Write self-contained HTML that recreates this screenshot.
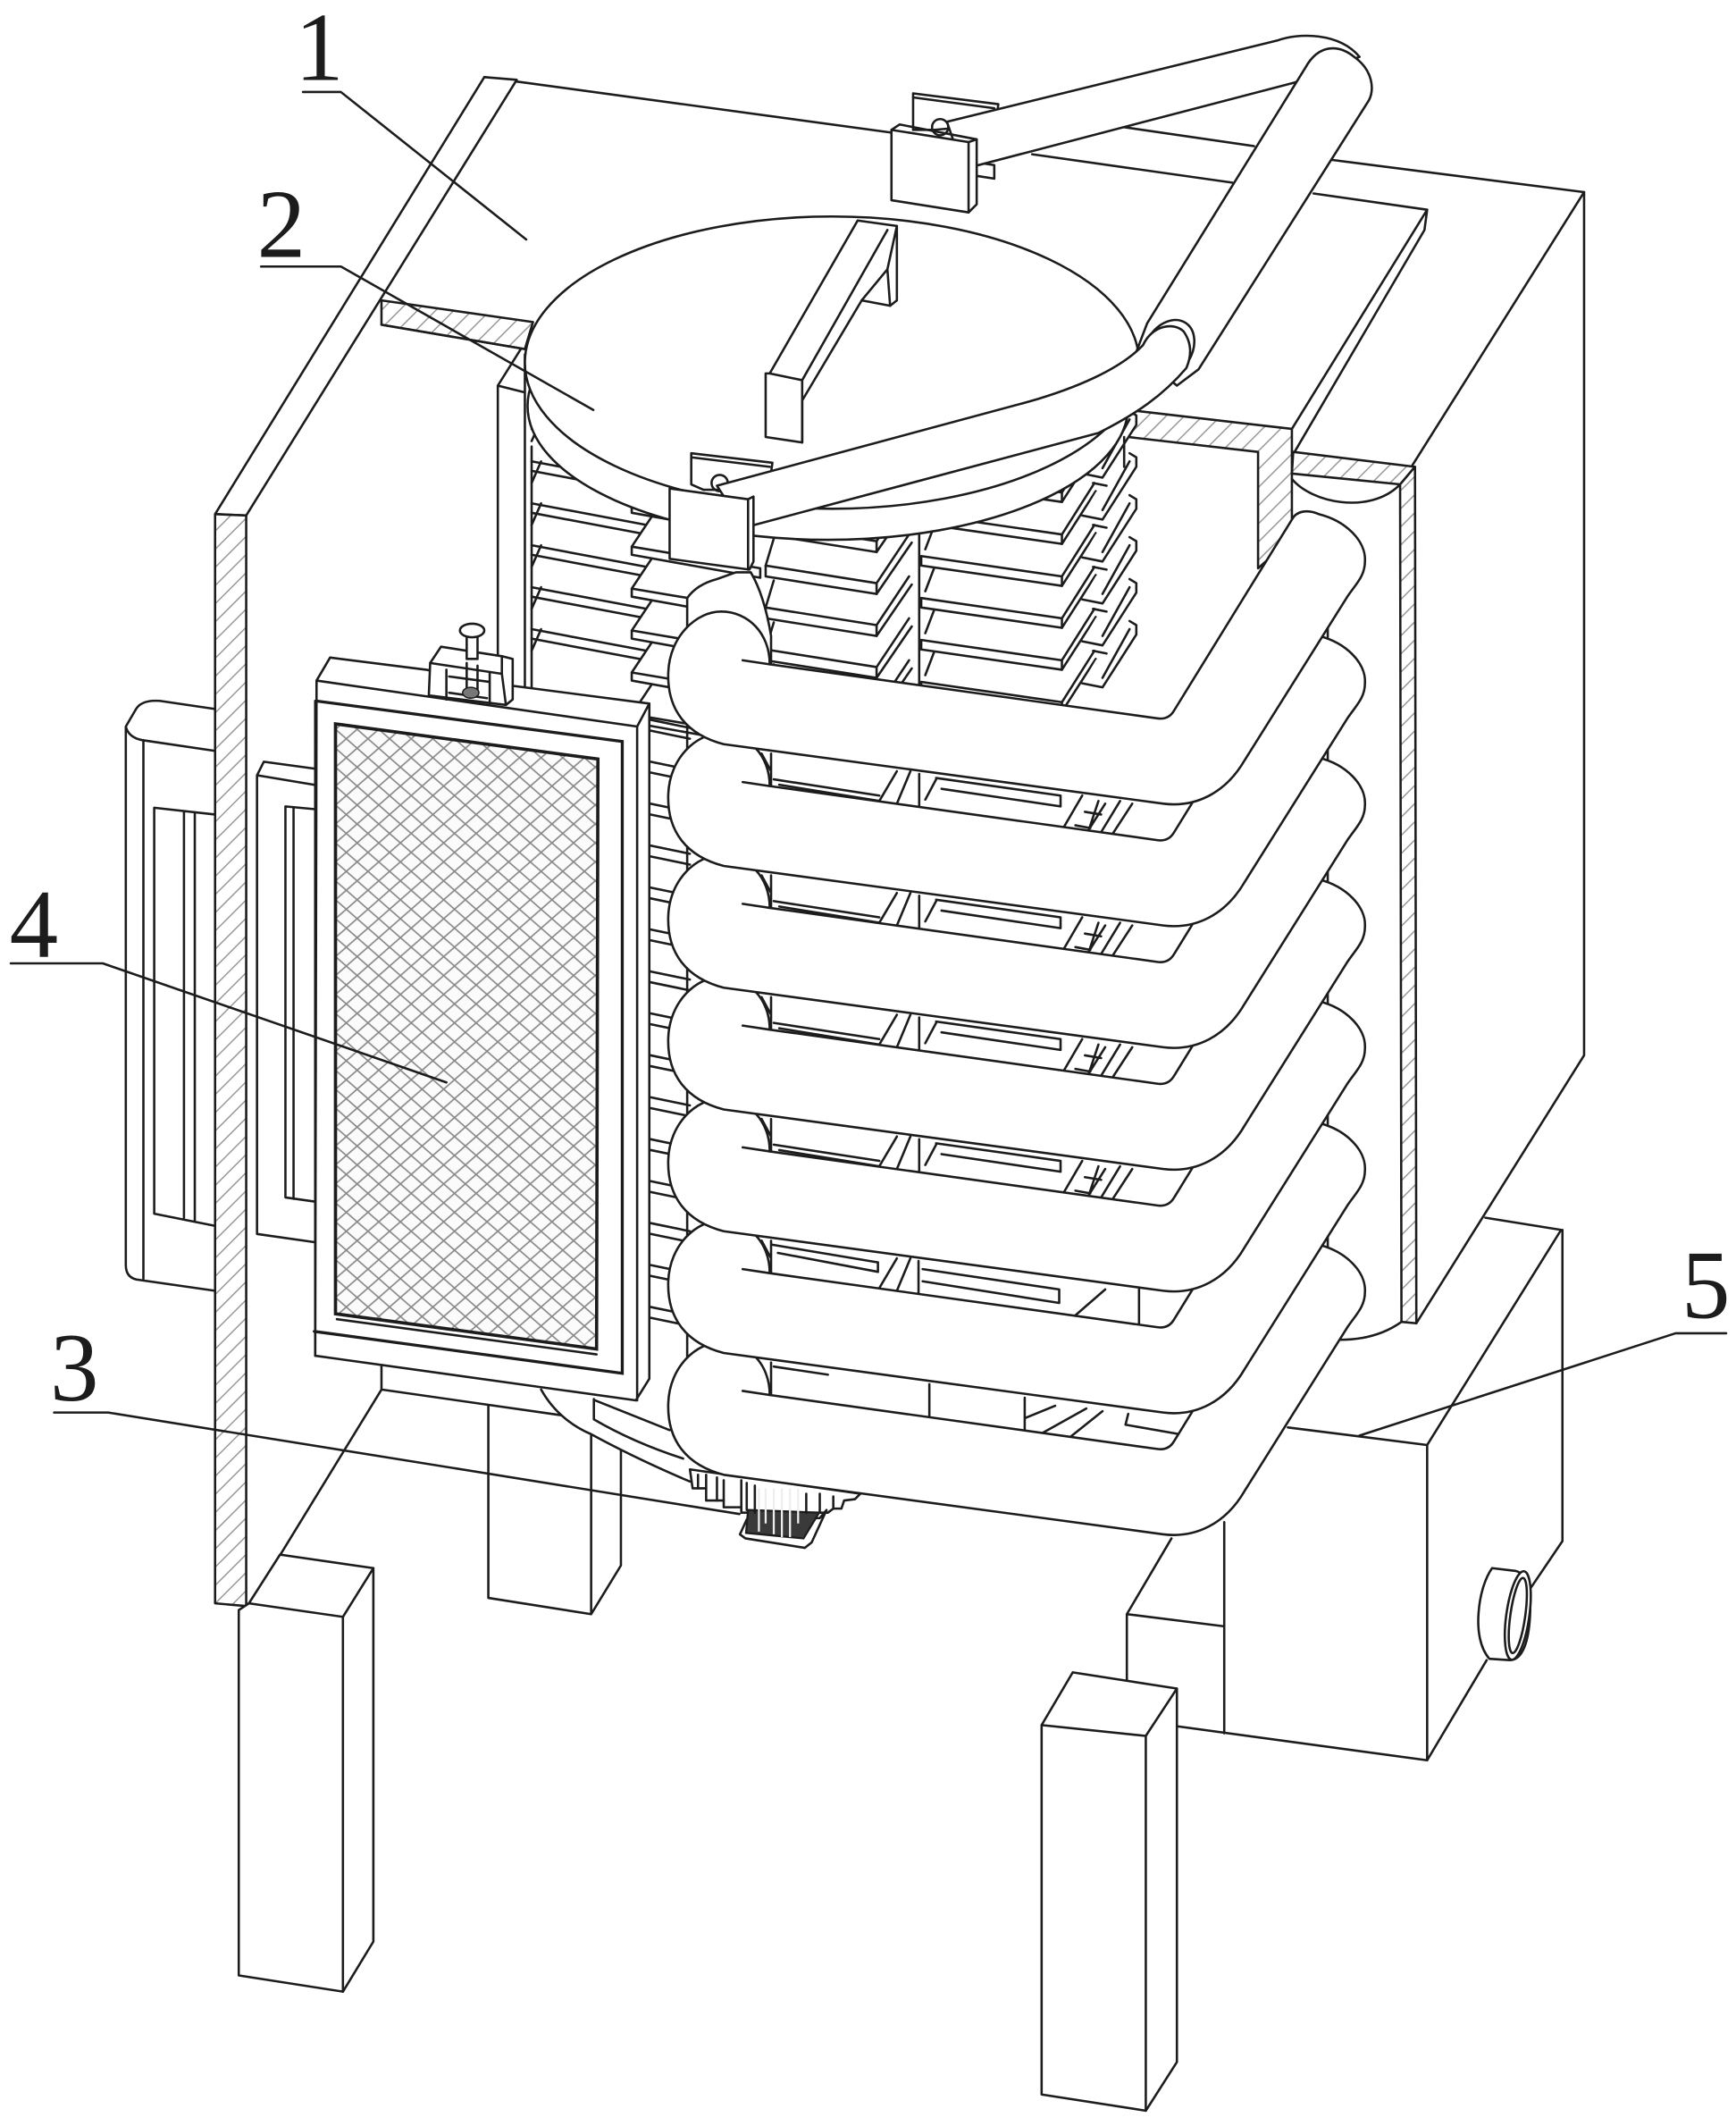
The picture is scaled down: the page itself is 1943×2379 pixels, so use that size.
<!DOCTYPE html>
<html><head><meta charset="utf-8"><title>Diagram</title>
<style>html,body{margin:0;padding:0;background:#fff}svg{display:block}
.l{fill:none;stroke:#1c1c1c;stroke-width:1.7;stroke-linejoin:round;stroke-linecap:round}
.w{fill:#fff;stroke:#1c1c1c;stroke-width:1.7;stroke-linejoin:round;stroke-linecap:round}
.f{fill:#fff;stroke:none}
.h{fill:url(#hatch);stroke:#1c1c1c;stroke-width:1.7;stroke-linejoin:round}
text{font-family:"Liberation Serif",serif;font-size:72px;fill:#1c1c1c;text-anchor:middle}
</style></head><body>
<svg xmlns="http://www.w3.org/2000/svg" width="1943" height="2379" viewBox="0 0 1283.3 1571.3" preserveAspectRatio="none">
<defs>
<pattern id="hatch" width="9.5" height="9.5" patternUnits="userSpaceOnUse" patternTransform="rotate(45)"><rect width="9.5" height="9.5" fill="#fff"/><line x1="0" y1="0" x2="0" y2="9.5" stroke="#999" stroke-width="2"/></pattern>
<pattern id="mesh" width="16" height="14" patternUnits="userSpaceOnUse"><rect width="16" height="14" fill="#fbfbfb"/><path d="M0,0L16,14M16,0L0,14" stroke="#888" stroke-width="1.1" fill="none"/></pattern>
<g id="row">
<path class="l" d="M393,372L494,391M393,379L494,398M393,388L400,372"/>
<path class="f" d="M493,396L560,408L562,451L562,458L467,441L467,435Z"/>
<path class="l" d="M493,396L467,435L562,451L562,458L467,441L467,435"/>
<path class="f" d="M566,418L590,382L672,395L648,439L566,426Z"/>
<path class="l" d="M566,418L648,431L648,439L566,426L566,418"/>
<path class="l" d="M648,431L672,395M648,439L674,401M566,418L572,398"/>
<path class="f" d="M681,411L705,375L809,388L785,433L681,418Z"/>
<path class="l" d="M681,411L785,426L785,433L681,418L681,411"/>
<path class="l" d="M785,426L809,388M785,433L810,394M684,406L692,385"/>
<path class="f" d="M800,412L815,415L840,376L840,369L835,366L810,395Z"/>
<path class="l" d="M800,412L815,415L840,376L840,369L835,366M815,408L835,372M808,388L818,390"/>
</g>
<g id="lp"><path class="l" d="M481,532L510,538M481,540L510,546"/></g>
<g id="gap">
<path class="l" d="M570,557L570,581M563,557L570,570M572,576L650,588M576,580L650,592"/>
<path class="l" d="M663,570L650,592M673,570L663,594M679.5,572L679.5,597M692,576L684,591"/>
<path class="l" d="M692,575L784,588M696,583L784,596M784,588L784,596M800,588L786,612M812,592L805,613M817,594L805,613M837,594L822,617M828,592L814,615M802,600L814,602M795,610L806,612"/>
</g>
<g id="coil">
<path class="w" d="M569,491L856,531Q864,532 868,525L955,384C958,378 966,376 975,380C995,385 1010,400 1009,415C1009,426 1002,432 996,441L920,562C906,586 884,597 860,594L535,550C508,543 493,525 494,497C495,470 515,452 533,452C553,452 569,468 569,491Z"/>
<path class="l" d="M549,488L569,491"/>
</g>
</defs>
<rect width="1283.3" height="1571.3" fill="#fff"/>

<!-- legs rear, tank -->
<path class="f" d="M361,1039L361,1181L437,1193L459,1157L459,1072L437,1061Z"/>
<path class="l" d="M361,1039L361,1181L437,1193L459,1157L459,1072M437,1061L437,1193"/>
<path class="l" d="M833,1193L866,1137M833,1193L905,1202M833,1193L833,1265"/>
<path class="l" d="M905,1125L905,1281"/>
<path class="l" d="M952,1055L1055,1068L1154,909L1098,900M1055,1068L1055,1301L871,1276M1055,1301L1099,1227M1155,909L1155,1139L1132,1173"/>
<path class="w" d="M1103,1159L1120,1161C1130,1163 1132,1178 1131,1195C1130,1212 1126,1227 1116,1227L1101,1226C1094,1218 1092,1205 1093,1192C1094,1178 1098,1166 1103,1159Z"/>
<ellipse class="w" cx="1122" cy="1194" rx="8.5" ry="33" transform="rotate(8 1122 1194)"/>
<ellipse class="l" cx="1122" cy="1194" rx="5.5" ry="28" transform="rotate(8 1122 1194)"/>

<!-- top face + right wall -->
<path class="l" d="M358,57L659,98"/>
<path class="l" d="M831,94L927,108M983,118L1171,142M763,114L911,135M971,143L1055,155"/>
<path class="l" d="M1055,155L955,317M1053,170L957,334M1055,155L1053,170"/>
<path class="l" d="M1171,142L1044,344M1171,142L1171,780L1047,978"/>
<path class="h" d="M834,303L955,317L955,398L930,420L930,334L834,323Z"/>
<path class="h" d="M956,334L1046,345L1035,358L955,350Z"/>
<path class="h" d="M1035,358L1046,345L1047,978L1036,977Z"/>
<path class="l" d="M955,354C970,372 1012,380 1034,359"/>
<path class="l" d="M983,990Q1015,992 1036,977"/>
<path class="l" d="M981.5,400L981.5,985M955,398L955,420"/>

<!-- left handles -->
<path class="l" d="M159,524L118,518Q104,517 100,525L93,537L93,935Q93,945 103,946L159,954M93,537Q95,545 105,547L159,555M106,547L106,945"/>
<path class="l" d="M159,602L114,597L114,897L159,906M136,600L136,900M144,601L144,902"/>
<path class="l" d="M232,568L195,563L190,573L190,912L232,918M190,573L232,580"/>
<path class="l" d="M232,598L211,596L211,885L232,888M217,597L217,886"/>

<!-- left wall -->
<path class="w" d="M159,380L358,57L382,59L182,381Z"/>
<path class="h" d="M159,380L182,381L182,1187L159,1185Z"/>

<!-- under parts -->
<path class="l" d="M282,1010L282,1027L415,1046M282,1027L184,1187"/>
<path class="l" d="M400,1027C410,1045 425,1055 437,1060Q470,1078 510,1095"/>
<path class="l" d="M439,1034L439,1049Q468,1066 505,1078M440,1035L495,1057"/>

<!-- fan/motor -->
<path class="w" d="M510,1086L512,1100L522,1100L522,1109L535,1109L535,1114L548,1114L548,1118L612,1118L616,1115L622,1115L624,1109L632,1108L636,1104Z"/>
<path class="w" d="M552,1123L547,1134L551,1137L595,1144L600,1140L611,1116L606,1122Z"/>
<path d="M553,1116L605.5,1118L594,1137L551.5,1133Z" fill="#3a3a3a" stroke="#1c1c1c" stroke-width="1.5"/>
<path d="M561,1100V1132M566,1100V1126M572,1100V1134M578,1100V1136M584,1100V1136M590,1100V1126" stroke="#eee" stroke-width="1.5" fill="none"/>
<path class="l" d="M516,1090V1100M522,1090V1100M530,1092V1109M535,1094V1109M548,1094V1116M552,1096V1116M558,1098V1118M596,1104V1118M606,1104V1118M616,1106V1115"/>

<!-- racks -->
<path class="l" d="M388,262L388,1000M368,285L368,500M368,285L385,258M368,285L388,290M393,330L393,510"/>
<path class="h" d="M282,222L394,238L388,258L282,240Z"/>
<path class="l" d="M282,240L388,258"/>
<use href="#row" y="93"/><use href="#row" y="62"/><use href="#row" y="31"/><use href="#row"/><use href="#row" y="-31"/><use href="#row" y="-62"/>
<path class="l" d="M679.5,395L679.5,520M831,323L831,345"/>
<use href="#lp"/><use href="#lp" y="31"/><use href="#lp" y="62"/><use href="#lp" y="93"/><use href="#lp" y="124"/><use href="#lp" y="155"/><use href="#lp" y="186"/><use href="#lp" y="217"/><use href="#lp" y="248"/><use href="#lp" y="279"/><use href="#lp" y="310"/><use href="#lp" y="341"/><use href="#lp" y="372"/><use href="#lp" y="403"/><use href="#lp" y="434"/>
<path class="l" d="M508,530L508,1040"/>
<use href="#gap"/><use href="#gap" y="90"/><use href="#gap" y="180"/><use href="#gap" y="270"/>
<path class="l" d="M570,917L570,941M563,917L570,930M571,920L649,933M649,933L649,940L575,926"/>
<path class="l" d="M663,930L650,952M673,930L663,954M679,932L679,957M682,938L783,953M682,947L783,963M783,953L783,963M817,953L794,973M842,953L842,981"/>
<path class="l" d="M570,1007L570,1030M572,1010L612,1016M687,1023L687,1048M757.5,1033L757.5,1059M780,1039L758,1048M803,1041L769,1060M815,1043L790,1063M834,1045L832,1053L872,1060"/>
<path class="w" d="M508,490L508,442Q515,432 530,428L544,423L555,423Q565,440 570,470L570,490Z"/>

<!-- lid -->
<ellipse class="w" cx="612" cy="300" rx="222" ry="99"/>
<ellipse class="w" cx="615" cy="268" rx="227" ry="108"/>
<path class="w" d="M569,276L634,163L663,167L663,222L658,226L637,222L593,296L593,327L566,323L566,276Z"/>
<path class="l" d="M569,276L593,281L593,327M593,281L656,170M656,199L637,222M656,199L658,226M663,167L656,199"/>

<!-- upper arm + clamps -->
<path class="w" d="M675,69L738,77L736,92L690,96L675,96Z"/>
<path class="l" d="M675,72L735,80"/>
<circle class="l" cx="695" cy="94" r="6"/>
<path class="w" d="M722,120L735,122L735,132L722,130Z"/>
<path class="w" d="M700,90L944,30C960,24 990,24 1005,42L957,61L712,125Z"/>
<path class="w" d="M848,239L965,50C975,32 990,33 1001,42C1015,52 1016,66 1012,74L886,273L870,285L840,260Z"/>
<path class="w" d="M659,96L716,105L722,103L722,151L716,157L659,148Z"/>
<path class="l" d="M716,105L716,157M659,96L665,92L722,103"/>

<!-- lower tube -->
<path class="w" d="M511,335L571,342L569,356L560,362L520,362L511,358Z"/>
<path class="l" d="M511,338L569,345"/>
<circle class="l" cx="532" cy="357" r="6"/>
<ellipse class="w" cx="864" cy="258" rx="17" ry="23" transform="rotate(32 864 258)"/>
<path class="w" d="M530,359L760,297C795,287 828,273 845,255C852,240 868,238 875,245C882,255 880,265 877,272C860,292 840,306 812,320L550,390Z"/>
<path class="w" d="M495,361L553,369L557,367L557,415L554,421L495,413Z"/>
<path class="l" d="M553,369L553,421"/>

<!-- coils -->
<use href="#coil" y="540"/><use href="#coil" y="450"/><use href="#coil" y="360"/><use href="#coil" y="270"/><use href="#coil" y="180"/><use href="#coil" y="90"/><use href="#coil"/>

<!-- screen -->
<path class="w" d="M234,503L244,486L315,495L380,507L480,520L480,1019L470,1035L233,1002Z"/>
<path class="l" d="M234,503L471,537L471,1035M471,537L480,520M233,518L460,548L460,1015L232,984M233,518L233,1002"/>
<path d="M248,535L442,561L441,997L248,971Z" fill="url(#mesh)" stroke="#1c1c1c" stroke-width="2.4"/>
<path class="l" d="M249,975L441,1001"/>
<path d="M233,518L460,548L460,1015L232,984" fill="none" stroke="#1c1c1c" stroke-width="2.2"/>
<!-- screw clamp -->
<path class="w" d="M317,514L318,490L326,478L371,485L379,487L379,517L374,521Z"/>
<path class="l" d="M318,490L371,498L374,521M371,485L371,498M330,495L330,517M362,497L362,520M332,500L362,504M332,512L360,516"/>
<path class="w" d="M345,470L353,470L353,487L345,487Z"/>
<ellipse class="w" cx="349" cy="466" rx="9" ry="5"/>
<path class="l" d="M345,490L345,510M353,492L353,510"/>
<ellipse cx="348" cy="512" rx="6" ry="4" fill="#777" stroke="#1c1c1c"/>

<!-- front legs -->
<path class="w" d="M176.5,1190L184,1185L207,1149L276,1159L276,1435L253.5,1472L176.5,1460Z"/>
<path class="l" d="M184,1185L253.5,1195L276,1159M253.5,1195L253.5,1472"/>
<path class="w" d="M770,1275L793,1236L870,1248L870,1524L847,1560L770,1548Z"/>
<path class="l" d="M770,1275L847,1283L870,1248M847,1283L847,1560"/>

<!-- leaders -->
<path class="l" d="M224,68L252,68L389,177M193,197L252,197L438.6,303M40,1044L80,1044L546.6,1119M8,712L76,712L330,800M1276,985.4L1238.6,985.4L1005,1061"/>
<text x="236" y="59">1</text>
<text x="208" y="190">2</text>
<text x="55" y="1035">3</text>
<text x="25" y="707">4</text>
<text x="1261" y="974">5</text>
</svg>
</body></html>
